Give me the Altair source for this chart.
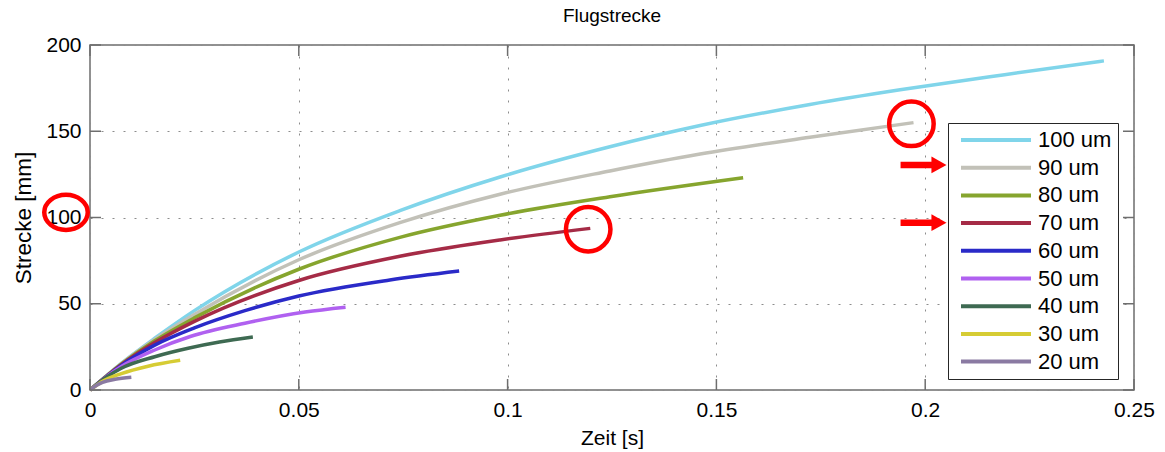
import altair as alt
import pandas as pd

# Particle flight distance over time, one curve per particle diameter
SERIES = ["100 um", "90 um", "80 um", "70 um", "60 um", "50 um", "40 um", "30 um", "20 um"]
COLORS = ["#80d5ea", "#c2c1b8", "#86a52e", "#a52b46", "#2a2ac8", "#b061f0", "#3e6a52", "#d6cc34", "#8a7aa2"]

t_100 = [0, 0.0075, 0.0155, 0.025, 0.05, 0.0742, 0.0982, 0.1245, 0.1461, 0.1724, 0.194, 0.219, 0.2428]
s_100 = [0, 15.5, 30, 46, 80, 104, 123.5, 141, 153.3, 165.5, 174, 182.8, 190.8]

t_90 = [0, 0.0075, 0.0155, 0.025, 0.05, 0.0742, 0.0982, 0.1245, 0.1461, 0.1724, 0.1972]
s_90 = [0, 15.3, 29.3, 43.8, 75.5, 97, 113.5, 127, 136.8, 146.5, 155]

t_80 = [0, 0.0075, 0.0155, 0.025, 0.05, 0.0742, 0.0982, 0.1245, 0.1564]
s_80 = [0, 15, 28.5, 41.8, 70, 88.5, 101.3, 112, 123]

t_70 = [0, 0.0075, 0.0155, 0.025, 0.05, 0.0742, 0.0982, 0.1198]
s_70 = [0, 14.7, 27.5, 39.8, 63.5, 77.5, 87, 93.7]

t_60 = [0, 0.0075, 0.0155, 0.025, 0.0371, 0.05, 0.0718, 0.0884]
s_60 = [0, 14.3, 26, 36, 46, 54.5, 63.8, 69]

t_50 = [0, 0.004, 0.0075, 0.0155, 0.024, 0.0371, 0.0515, 0.0612]
s_50 = [0, 7.8, 13.6, 23.2, 31, 38.7, 45.2, 48]

t_40 = [0, 0.004, 0.0075, 0.0155, 0.0235, 0.031, 0.039]
s_40 = [0, 7.5, 12.6, 19.3, 24.2, 27.8, 30.7]

t_30 = [0, 0.003, 0.0075, 0.0139, 0.0216]
s_30 = [0, 5, 9.5, 13.8, 17.2]

t_20 = [0, 0.0015, 0.003, 0.006, 0.0099]
s_20 = [0, 2.6, 4.4, 6.2, 7.4]

X_TICKS = [0, 0.05, 0.1, 0.15, 0.2, 0.25]
Y_TICKS = [0, 50, 100, 150, 200]

# Red highlight rings (centre in axis units) and arrows pointing at legend rows
RING_T = [0.1967, 0.1193]
RING_S = [154.3, 93.2]
ARROW_S = [130.5, 97.0]
ARROW_T0, ARROW_T1, ARROW_HEAD_T = 0.1941, 0.2018, 0.2033

times = [t_100, t_90, t_80, t_70, t_60, t_50, t_40, t_30, t_20]
dists = [s_100, s_90, s_80, s_70, s_60, s_50, s_40, s_30, s_20]
rows = []
for k, (name, ts, ss) in enumerate(zip(SERIES, times, dists)):
    for t, s in zip(ts, ss):
        rows.append({"series": name, "rank": k, "t": t, "s": s})
curves = pd.DataFrame(rows)

W, H = 1044, 345
FONT = "Liberation Sans"
FRAME = "#6e6e6e"
RED = "#ff0000"
TICK = 11
X_TITLE = "Zeit [s]"
Y_TITLE = "Strecke [mm]"

xs = alt.Scale(domain=[0, 0.25], nice=False, zero=False)
ys = alt.Scale(domain=[0, 200], nice=False, zero=False)
x_axis = alt.Axis(values=X_TICKS, format=".2~f", labelFlush=False)
y_axis = alt.Axis(values=Y_TICKS, labelFlush=False)


def X(field):
    return alt.X(field, scale=xs, title=X_TITLE, axis=x_axis)


def Y(field):
    return alt.Y(field, scale=ys, title=Y_TITLE, axis=y_axis)


legend = alt.Legend(
    title=None, orient="none", legendX=858, legendY=78,
    symbolType="M-5,0H5", symbolSize=196, symbolStrokeWidth=4,
    symbolFillColor="transparent",
    symbolOffset=31, labelOffset=31,
    labelFont=FONT, labelFontSize=22, labelColor="#000",
    padding=6, rowPadding=5.7,
    fillColor="#ffffff", strokeColor="#262626",
)

lines = alt.Chart(curves).mark_line(strokeWidth=3.5, interpolate="monotone").encode(
    x=X("t:Q"),
    y=Y("s:Q"),
    color=alt.Color("series:N", scale=alt.Scale(domain=SERIES, range=COLORS), legend=legend),
    detail="rank:O",
)

xt = pd.DataFrame({"v": X_TICKS})
yt = pd.DataFrame({"v": Y_TICKS})
xtick_b = alt.Chart(xt).mark_rule(color=FRAME, strokeWidth=1.5).encode(
    x=X("v:Q"), y=alt.value(H), y2=alt.value(H - TICK))
xtick_t = alt.Chart(xt).mark_rule(color=FRAME, strokeWidth=1.5).encode(
    x=X("v:Q"), y=alt.value(0), y2=alt.value(TICK))
ytick_l = alt.Chart(yt).mark_rule(color=FRAME, strokeWidth=1.5).encode(
    y=Y("v:Q"), x=alt.value(0), x2=alt.value(TICK))
ytick_r = alt.Chart(yt).mark_rule(color=FRAME, strokeWidth=1.5).encode(
    y=Y("v:Q"), x=alt.value(W), x2=alt.value(W - TICK))

rings = alt.Chart(pd.DataFrame({"t": RING_T, "s": RING_S})).mark_point(
    shape="circle", size=1980, filled=False, color=RED, strokeWidth=4.5, opacity=1
).encode(x=X("t:Q"), y=Y("s:Q"))

# slightly flattened ring around the "100" tick label
label_ring = alt.Chart(pd.DataFrame({"s": [103.0]})).mark_point(
    shape="M-1.236,0A1.236,1,0,1,0,1.236,0A1.236,1,0,1,0,-1.236,0Z",
    size=(2 * 17.6) ** 2, filled=False, color=RED, strokeWidth=4.5, opacity=1
).encode(x=alt.value(-24), y=Y("s:Q"))

arrow_df = pd.DataFrame({"s": ARROW_S, "t0": [ARROW_T0] * 2, "t1": [ARROW_T1] * 2,
                         "th": [ARROW_HEAD_T] * 2})
shafts = alt.Chart(arrow_df).mark_rule(color=RED, strokeWidth=6.5, strokeCap="butt").encode(
    x=X("t0:Q"), x2="t1:Q", y=Y("s:Q"))
heads = alt.Chart(arrow_df).mark_point(
    shape="M-0.9,-1L0.9,0L-0.9,1Z", size=16.7 ** 2, filled=True, color=RED, opacity=1
).encode(x=X("th:Q"), y=Y("s:Q"))

chart = alt.layer(
    lines, xtick_b, xtick_t, ytick_l, ytick_r, rings, label_ring, shafts, heads
).properties(
    width=W, height=H,
    background="#ffffff",
    title=alt.TitleParams("Flugstrecke", font=FONT, fontSize=19, fontWeight="normal",
                          color="#000", anchor="middle", offset=8),
    autosize=alt.AutoSizeParams(type="none"),
    padding={"left": 90, "top": 45, "right": 31, "bottom": 62},
).configure_view(
    stroke=FRAME, strokeWidth=1.5
).configure_axis(
    domain=False, ticks=False,
    labelFont=FONT, labelFontSize=21, labelColor="#000", labelPadding=9, labelOverlap=False,
    titleFont=FONT, titleFontSize=21, titleFontWeight="normal", titleColor="#000",
    grid=True, gridColor="#8c8c8c", gridDash=[2, 9], gridWidth=1,
).configure_axisY(
    titlePadding=10, titleFontSize=22.5
).configure_axisX(
    titlePadding=7
)

chart.save("out.html", embed_options={"renderer": "svg", "actions": False})
